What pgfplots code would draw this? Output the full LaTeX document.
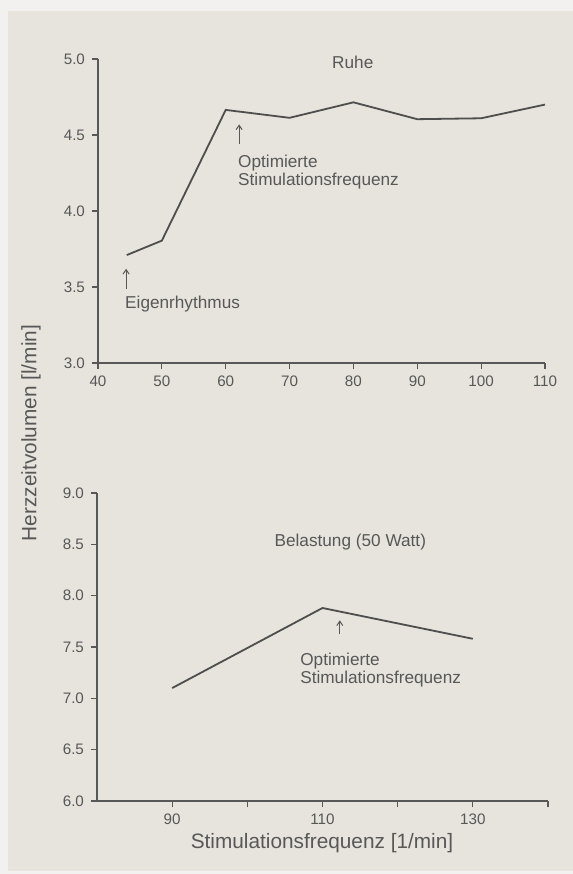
\documentclass[border=0pt]{standalone}
\usepackage{fontspec}
\setmainfont{Liberation Sans}
\usepackage{pgfplots}
\pgfplotsset{compat=1.18}
\usetikzlibrary{arrows.meta}
\definecolor{bg}{RGB}{231,227,221}
\definecolor{edge}{RGB}{242,241,239}
\definecolor{ink}{RGB}{88,88,88}
\definecolor{lineink}{RGB}{78,78,78}
\tikzset{
  ann/.style={ink, inner sep=0pt, font=\fontsize{8.6}{9}\selectfont, align=left},
  arr/.style={ink, line width=0.5pt, -{Straight Barb[length=2.2pt,width=3pt]}},
}
\pgfplotsset{
  common/.style={
    scale only axis,
    anchor=south west,
    axis x line*=bottom,
    axis y line*=left,
    axis line style={ink, line width=0.7pt},
    tick style={ink, line width=0.6pt},
    tick align=outside,
    major tick length=3pt,
    minor tick num=0,
    ticklabel style={ink, font=\fontsize{7.6}{9}\selectfont},
    /pgf/number format/assume math mode=true,
    yticklabel style={/pgf/number format/fixed, /pgf/number format/fixed zerofill, /pgf/number format/precision=1},
    xticklabel style={/pgf/number format/fixed},
    clip=false,
  },
}
\begin{document}
\begin{tikzpicture}
\fill[edge] (0,0) rectangle (286.5pt,437pt);
\fill[bg] (4pt,1.5pt) rectangle (286.5pt,431.5pt);
\useasboundingbox (0,0) rectangle (286.5pt,437pt);

% top: Ruhe
\begin{axis}[common,
  at={(49pt,255.5pt)}, width=223.5pt, height=152pt,
  xmin=40, xmax=110, ymin=3, ymax=5,
  xtick={40,50,...,110}, ytick={3,3.5,...,5},
]
\addplot[lineink, line width=0.9pt] coordinates {
 (44.5,3.71) (50,3.805) (60,4.665) (70,4.613) (80,4.715) (90,4.604) (100,4.61) (110,4.70)};
\node[ann] at (axis cs:79.9,4.975) {Ruhe};
\draw[arr] (axis cs:62.1,4.44) -- (axis cs:62.1,4.57);
\node[ann, anchor=west] at (axis cs:61.9,4.253) {Optimierte\\Stimulationsfrequenz};
\draw[arr] (axis cs:44.4,3.49) -- (axis cs:44.4,3.62);
\node[ann, anchor=west] at (axis cs:44.2,3.385) {Eigenrhythmus};
\end{axis}

% bottom: Belastung
\begin{axis}[common,
  at={(48.5pt,36.5pt)}, width=225.5pt, height=154pt,
  xmin=80, xmax=140, ymin=6, ymax=9,
  xtick={90,100,...,140}, xticklabels={90,,110,,130,},
  ytick={6,6.5,...,9},
]
\addplot[lineink, line width=0.9pt] coordinates {(90,7.10) (110,7.88) (130,7.58)};
\node[ann] at (axis cs:113.7,8.52) {Belastung (50 Watt)};
\draw[arr] (axis cs:112.3,7.63) -- (axis cs:112.3,7.76);
\node[ann, anchor=west] at (axis cs:107,7.28) {Optimierte\\Stimulationsfrequenz};
\end{axis}

\node[ink, rotate=90, font=\fontsize{10.4}{12}\selectfont] at (15.5pt,220.5pt) {Herzzeitvolumen [l/min]};
\node[ink, font=\fontsize{10.4}{12}\selectfont] at (161pt,15.5pt) {Stimulationsfrequenz [1/min]};
\end{tikzpicture}
\end{document}
